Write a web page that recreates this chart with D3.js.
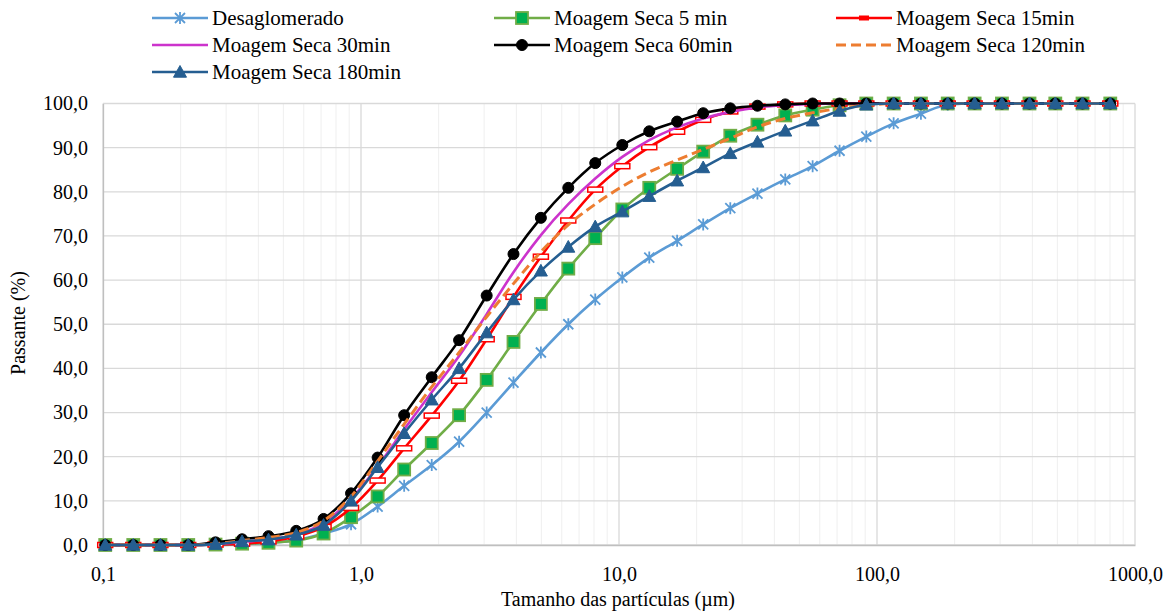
<!DOCTYPE html>
<html>
<head>
<meta charset="utf-8">
<script src="https://cdn.jsdelivr.net/npm/d3@7"></script>
<style>
  body { margin: 0; background: #fff; }
  text { font-family: "Liberation Serif", "Times New Roman", serif; fill: #000; }
</style>
</head>
<body>
<div id="chart"></div>
<script>
// particle sizes (µm)
const sizes = [0.102, 0.131, 0.167, 0.214, 0.273, 0.346, 0.438, 0.561, 0.716, 0.915,
  1.16, 1.47, 1.88, 2.40, 3.07, 3.90, 4.98, 6.36, 8.09, 10.3,
  13.1, 16.8, 21.2, 27.0, 34.4, 44.1, 56.3, 71.6, 90.9, 116,
  148, 188, 239, 305, 390, 491, 626, 802];

const desaglomerado = [0, 0, 0, 0, 0, 0.2, 0.5, 1.1, 2.6, 4.7,
  8.7, 13.4, 18.1, 23.4, 30.0, 36.8, 43.6, 50.0, 55.6, 60.6,
  65.1, 68.9, 72.6, 76.3, 79.6, 82.8, 85.8, 89.3, 92.5, 95.5,
  97.7, 99.7, 100, 100, 100, 100, 100, 100];
const seca5 = [0, 0, 0, 0, 0.1, 0.3, 0.5, 1.0, 2.6, 6.3,
  11.0, 17.1, 23.1, 29.4, 37.4, 46.0, 54.6, 62.6, 69.5, 76.0,
  80.9, 85.2, 89.1, 92.7, 95.2, 97.3, 98.6, 99.6, 100, 100,
  100, 100, 100, 100, 100, 100, 100, 100];
const seca15 = [0, 0, 0, 0, 0.1, 0.3, 0.8, 1.9, 4.1, 8.4,
  14.6, 21.9, 29.3, 37.2, 46.6, 56.2, 65.3, 73.5, 80.5, 85.8,
  90.1, 93.6, 96.3, 98.2, 99.3, 99.8, 100, 100, 100, 100,
  100, 100, 100, 100, 100, 100, 100, 100];
const seca30 = [0, 0, 0, 0, 0.2, 0.7, 1.3, 2.3, 5.0, 10.4,
  17.8, 26.2, 34.6, 42.8, 52.3, 61.8, 70.2, 77.2, 83.0, 87.9,
  91.7, 94.6, 96.6, 98.1, 99.1, 99.6, 99.9, 100, 100, 100,
  100, 100, 100, 100, 100, 100, 100, 100];
const seca60 = [0, 0, 0, 0, 0.6, 1.3, 2.0, 3.2, 5.9, 11.7,
  19.8, 29.4, 38.0, 46.4, 56.5, 65.9, 74.1, 80.9, 86.5, 90.6,
  93.7, 95.9, 97.8, 98.9, 99.5, 99.8, 100, 100, 100, 100,
  100, 100, 100, 100, 100, 100, 100, 100];
const seca120 = [0, 0, 0, 0, 0.3, 1.0, 1.7, 2.8, 5.5, 11.0,
  19.0, 27.4, 35.8, 43.6, 51.7, 59.2, 66.4, 72.5, 77.2, 81.2,
  84.5, 87.2, 89.6, 92.1, 94.7, 96.6, 97.9, 98.9, 99.6, 100,
  100, 100, 100, 100, 100, 100, 100, 100];
const seca180 = [0, 0, 0, 0, 0.2, 0.8, 1.2, 2.3, 4.5, 10.0,
  17.6, 25.3, 32.9, 40.0, 48.1, 55.6, 62.1, 67.5, 72.1, 75.5,
  79.0, 82.5, 85.5, 88.7, 91.3, 93.8, 96.1, 98.3, 99.7, 100,
  100, 100, 100, 100, 100, 100, 100, 100];

const seriesNames = ["Desaglomerado", "Moagem Seca 5 min", "Moagem Seca 15min", "Moagem Seca 30min",
  "Moagem Seca 60min", "Moagem Seca 120min", "Moagem Seca 180min"];
const xTicks = [0.1, 1, 10, 100, 1000];
const yTicks = [0, 10, 20, 30, 40, 50, 60, 70, 80, 90, 100];

const series = [
  { name: seriesNames[0], values: desaglomerado, color: "#5b9bd5", marker: "star" },
  { name: seriesNames[1], values: seca5, color: "#70ad47", marker: "square" },
  { name: seriesNames[2], values: seca15, color: "#ff0000", marker: "dash" },
  { name: seriesNames[3], values: seca30, color: "#cc33cc", marker: null },
  { name: seriesNames[4], values: seca60, color: "#000000", marker: "circle" },
  { name: seriesNames[5], values: seca120, color: "#ed7d31", marker: null, dash: "10,5" },
  { name: seriesNames[6], values: seca180, color: "#255e91", marker: "triangle" }
];

let width = 1173;
let height = 615;
let plotLeft = 103, plotRight = 1135, plotTop = 103.5, plotBottom = 545;

let svg = d3.select("#chart")
    .append("svg")
    .attr("width", width)
    .attr("height", height);

let x = d3.scaleLog().domain([0.1, 1000]).range([plotLeft, plotRight]);
let y = d3.scaleLinear().domain([0, 100]).range([plotBottom, plotTop]);

// minor vertical grid
let minor = [];
for (let e = -1; e < 3; e++) {
    for (let k = 2; k <= 9; k++) minor.push(k * Math.pow(10, e));
}
svg.append("g").selectAll("line")
    .data(minor).enter().append("line")
    .attr("x1", d => x(d)).attr("x2", d => x(d))
    .attr("y1", plotTop).attr("y2", plotBottom)
    .style("stroke", "#efefef").style("stroke-width", 1);

// major grid
svg.append("g").selectAll("line")
    .data(xTicks).enter().append("line")
    .attr("x1", d => x(d)).attr("x2", d => x(d))
    .attr("y1", plotTop).attr("y2", plotBottom)
    .style("stroke", "#d9d9d9").style("stroke-width", 1.3);
svg.append("g").selectAll("line")
    .data(yTicks).enter().append("line")
    .attr("x1", plotLeft).attr("x2", plotRight)
    .attr("y1", d => y(d)).attr("y2", d => y(d))
    .style("stroke", "#d9d9d9").style("stroke-width", 1.3);

// axes
let fmt = d => d3.format(".1f")(d).replace(".", ",");
let yAxis = svg.append("g")
    .attr("transform", "translate(" + plotLeft + ",0)")
    .call(d3.axisLeft(y).tickValues(yTicks).tickFormat(fmt).tickSize(0).tickPadding(15));
let xAxis = svg.append("g")
    .attr("transform", "translate(0," + plotBottom + ")")
    .call(d3.axisBottom(x).tickValues(xTicks).tickFormat(fmt).tickSize(0).tickPadding(22));
[yAxis, xAxis].forEach(a => {
    a.select(".domain").style("stroke", "#bfbfbf").style("stroke-width", 1.3);
    a.selectAll("text").style("font-size", "20px").style("font-family", "Liberation Serif");
});

svg.append("text")
    .attr("transform", "translate(25,323) rotate(-90)")
    .attr("text-anchor", "middle")
    .style("font-size", "20px")
    .text("Passante (%)");
svg.append("text")
    .attr("x", 618).attr("y", 606)
    .attr("text-anchor", "middle")
    .style("font-size", "20px")
    .text("Tamanho das partículas (µm)");

// marker drawing
function drawMarker(g, type, cx, cy, inLegend) {
    if (type === "circle") {
        g.append("circle").attr("cx", cx).attr("cy", cy).attr("r", 5.5)
            .style("fill", "#000").style("stroke", "#000");
    } else if (type === "square") {
        let h = 6;
        g.append("rect").attr("x", cx - h).attr("y", cy - h).attr("width", 2 * h).attr("height", 2 * h)
            .style("fill", "#00b050").style("stroke", "#70ad47").style("stroke-width", 1.8);
    } else if (type === "triangle") {
        let h = 6.5;
        g.append("path")
            .attr("d", "M" + cx + "," + (cy - h) + "L" + (cx + h) + "," + (cy + h * 0.8) + "L" + (cx - h) + "," + (cy + h * 0.8) + "Z")
            .style("fill", "#255e91").style("stroke", "#255e91");
    } else if (type === "dash") {
        if (inLegend) {
            g.append("rect").attr("x", cx - 5).attr("y", cy - 2.5).attr("width", 10).attr("height", 5)
                .style("fill", "#ff0000");
        } else {
            g.append("rect").attr("x", cx - 7.5).attr("y", cy - 2.5).attr("width", 15).attr("height", 5)
                .style("fill", "#fff").style("stroke", "#ff0000").style("stroke-width", 1.5);
        }
    } else if (type === "star") {
        let h = 5;
        g.append("path")
            .attr("d", "M" + (cx - h) + "," + (cy - h) + "L" + (cx + h) + "," + (cy + h) +
                "M" + (cx - h) + "," + (cy + h) + "L" + (cx + h) + "," + (cy - h) +
                "M" + cx + "," + (cy - h - 1) + "L" + cx + "," + (cy + h + 1))
            .style("stroke", "#5b9bd5").style("stroke-width", 1.8).style("fill", "none");
    }
}

let line = d3.line()
    .x(d => x(d[0]))
    .y(d => y(d[1]))
    .curve(d3.curveMonotoneX);

series.forEach(function (s) {
    let pts = sizes.map((v, i) => [v, s.values[i]]);
    let g = svg.append("g");
    g.append("path")
        .attr("d", line(pts))
        .style("fill", "none")
        .style("stroke", s.color)
        .style("stroke-width", s.dash ? 3 : 2.6)
        .style("stroke-dasharray", s.dash || null);
    if (s.marker) {
        pts.forEach(p => drawMarker(g, s.marker, x(p[0]), y(p[1]), false));
    }
});

// legend
let legendCols = [152, 494, 836];
let legendRows = [18, 45, 72];
series.forEach(function (s, i) {
    let lx = legendCols[i % 3], ly = legendRows[Math.floor(i / 3)];
    let g = svg.append("g");
    g.append("line")
        .attr("x1", lx).attr("x2", lx + 56)
        .attr("y1", ly).attr("y2", ly)
        .style("stroke", s.color).style("stroke-width", s.dash ? 3 : 2.6)
        .style("stroke-dasharray", s.dash || null);
    if (s.marker) drawMarker(g, s.marker, lx + 28, ly, true);
    g.append("text")
        .attr("x", lx + 60).attr("y", ly)
        .attr("dy", "0.35em")
        .style("font-size", "21px")
        .text(s.name);
});
</script>
</body>
</html>
